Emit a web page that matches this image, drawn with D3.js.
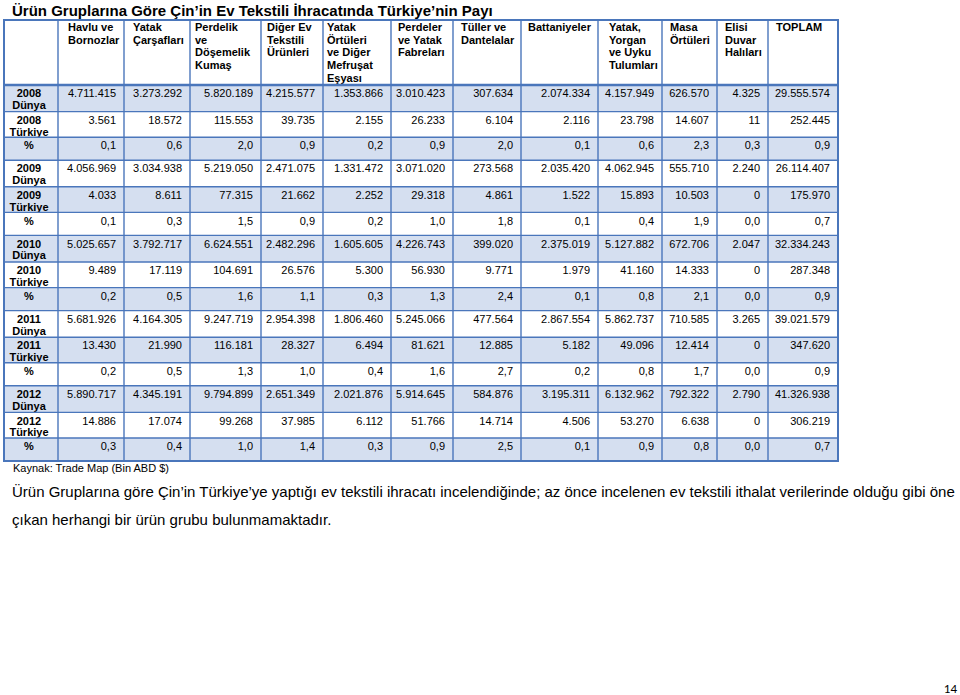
<!DOCTYPE html>
<html>
<head>
<meta charset="utf-8">
<script src="https://cdn.jsdelivr.net/npm/d3@7"></script>
<style>
  body { margin: 0; background: #fff; }
  svg text { font-family: "Liberation Sans", Arial, sans-serif; }
</style>
</head>
<body>
<div id="table-chart"></div>
<script>
const years = [2008, 2009, 2010, 2011, 2012];

const headers = [
  ["Havlu ve", "Bornozlar"],
  ["Yatak", "Çarşafları"],
  ["Perdelik", "ve", "Döşemelik", "Kumaş"],
  ["Diğer Ev", "Tekstili", "Ürünleri"],
  ["Yatak", "Örtüleri", "ve Diğer", "Mefruşat", "Eşyası"],
  ["Perdeler", "ve Yatak", "Fabreları"],
  ["Tüller ve", "Dantelalar"],
  ["Battaniyeler"],
  ["Yatak,", "Yorgan", "ve Uyku", "Tulumları"],
  ["Masa", "Örtüleri"],
  ["Elisi", "Duvar", "Halıları"],
  ["TOPLAM"]
];

const dunya = [
  [4711415, 3273292, 5820189, 4215577, 1353866, 3010423, 307634, 2074334, 4157949, 626570, 4325, 29555574],
  [4056969, 3034938, 5219050, 2471075, 1331472, 3071020, 273568, 2035420, 4062945, 555710, 2240, 26114407],
  [5025657, 3792717, 6624551, 2482296, 1605605, 4226743, 399020, 2375019, 5127882, 672706, 2047, 32334243],
  [5681926, 4164305, 9247719, 2954398, 1806460, 5245066, 477564, 2867554, 5862737, 710585, 3265, 39021579],
  [5890717, 4345191, 9794899, 2651349, 2021876, 5914645, 584876, 3195311, 6132962, 792322, 2790, 41326938]
];

const turkiye = [
  [3561, 18572, 115553, 39735, 2155, 26233, 6104, 2116, 23798, 14607, 11, 252445],
  [4033, 8611, 77315, 21662, 2252, 29318, 4861, 1522, 15893, 10503, 0, 175970],
  [9489, 17119, 104691, 26576, 5300, 56930, 9771, 1979, 41160, 14333, 0, 287348],
  [13430, 21990, 116181, 28327, 6494, 81621, 12885, 5182, 49096, 12414, 0, 347620],
  [14886, 17074, 99268, 37985, 6112, 51766, 14714, 4506, 53270, 6638, 0, 306219]
];

const percent = [
  [0.1, 0.6, 2.0, 0.9, 0.2, 0.9, 2.0, 0.1, 0.6, 2.3, 0.3, 0.9],
  [0.1, 0.3, 1.5, 0.9, 0.2, 1.0, 1.8, 0.1, 0.4, 1.9, 0.0, 0.7],
  [0.2, 0.5, 1.6, 1.1, 0.3, 1.3, 2.4, 0.1, 0.8, 2.1, 0.0, 0.9],
  [0.2, 0.5, 1.3, 1.0, 0.4, 1.6, 2.7, 0.2, 0.8, 1.7, 0.0, 0.9],
  [0.3, 0.4, 1.0, 1.4, 0.3, 0.9, 2.5, 0.1, 0.9, 0.8, 0.0, 0.7]
];

const title = "Ürün Gruplarına Göre Çin’in Ev Tekstili İhracatında Türkiye’nin Payı";
const source = "Kaynak: Trade Map (Bin ABD $)";
const bodyText = [
  "Ürün Gruplarına göre Çin’in Türkiye’ye yaptığı ev tekstili ihracatı incelendiğinde; az önce incelenen ev tekstili ithalat verilerinde olduğu gibi öne",
  "çıkan herhangi bir ürün grubu bulunmamaktadır."
];
const pageNo = "14";

// layout
const width = 960, height = 695;
const colWidths = [54, 66, 66, 71, 62, 68, 62, 68, 77, 64, 55, 51, 70];
const headPad = [10, 9, 5, 6, 4, 7, 8, 7, 11, 8, 8, 8];
const tableX = 4, tableY = 20, headH = 65;
const rowH = { dunya: 26.6, turkiye: 25.6, pct: 23 };
const shade = "#d5dff0";
const lineColor = "#4a76bb";

const tr = d3.formatLocale({ decimal: ",", thousands: ".", grouping: [3], currency: ["", ""] });
const fmtInt = tr.format(",d");
const fmtPct = tr.format(".1f");

// build row list
let rows = [];
years.forEach((y, i) => {
  rows.push({ type: "dunya", label: [String(y), "Dünya"], values: dunya[i].map(fmtInt) });
  rows.push({ type: "turkiye", label: [String(y), "Türkiye"], values: turkiye[i].map(fmtInt) });
  rows.push({ type: "pct", label: ["%"], values: percent[i].map(fmtPct) });
});
let yy = tableY + headH;
rows.forEach((r, i) => {
  r.y = yy;
  r.h = rowH[r.type];
  r.shaded = i % 2 === 0;
  yy += r.h;
});
const tableBottom = yy;

// column edges
const edges = [tableX];
colWidths.forEach(w => edges.push(edges[edges.length - 1] + w));
const tableRight = edges[edges.length - 1];
const x = d3.scaleOrdinal().domain(d3.range(colWidths.length)).range(edges.slice(0, -1));
const w = i => colWidths[i];

const svg = d3.select("#table-chart")
  .append("svg")
  .attr("width", width)
  .attr("height", height);

// title
svg.append("text")
  .attr("x", 12)
  .attr("y", 15.5)
  .style("font-size", "15px")
  .style("font-weight", "bold")
  .text(title);

// body rows: backgrounds
const rowG = svg.selectAll("g.row")
  .data(rows)
  .join("g")
  .attr("class", "row")
  .attr("transform", d => `translate(0,${d.y})`);

rowG.append("rect")
  .attr("x", tableX)
  .attr("y", 0)
  .attr("width", tableRight - tableX)
  .attr("height", d => d.h)
  .attr("fill", d => d.shaded ? shade : "#fff");

// row labels
rowG.append("text")
  .attr("text-anchor", "middle")
  .style("font-size", "11px")
  .style("font-weight", "bold")
  .selectAll("tspan")
  .data(d => d.label)
  .join("tspan")
  .attr("x", x(0) + w(0) / 2 - 2)
  .attr("y", (d, i) => 12.3 + i * 11.8)
  .text(d => d);

// values
rowG.selectAll("text.val")
  .data(d => d.values)
  .join("text")
  .attr("class", "val")
  .attr("text-anchor", "end")
  .attr("x", (d, i) => x(i + 1) + w(i + 1) - 8)
  .attr("y", 12.3)
  .style("font-size", "11px")
  .text(d => d);

// header
const headG = svg.selectAll("g.head")
  .data(headers)
  .join("g")
  .attr("class", "head");

headG.append("text")
  .style("font-size", "11px")
  .style("font-weight", "bold")
  .selectAll("tspan")
  .data((d, i) => d.map(t => ({ t, col: i })))
  .join("tspan")
  .attr("x", d => x(d.col + 1) + headPad[d.col])
  .attr("y", (d, i) => tableY + 10.8 + i * 12.8)
  .text(d => d.t);

// grid lines
svg.selectAll("line.hline")
  .data(rows.map(r => r.y + r.h).slice(0, -1))
  .join("line")
  .attr("class", "hline")
  .attr("x1", tableX).attr("x2", tableRight)
  .attr("y1", d => d).attr("y2", d => d)
  .attr("stroke", lineColor)
  .attr("stroke-width", 1.4);

svg.selectAll("line.vline")
  .data(edges.slice(1, -1))
  .join("line")
  .attr("class", "vline")
  .attr("x1", d => d).attr("x2", d => d)
  .attr("y1", tableY).attr("y2", tableBottom)
  .attr("stroke", lineColor)
  .attr("stroke-width", 1.4);

svg.append("line")
  .attr("x1", tableX).attr("x2", tableRight)
  .attr("y1", tableY + headH).attr("y2", tableY + headH)
  .attr("stroke", lineColor)
  .attr("stroke-width", 2.6);

svg.append("rect")
  .attr("x", tableX).attr("y", tableY)
  .attr("width", tableRight - tableX)
  .attr("height", tableBottom - tableY)
  .attr("fill", "none")
  .attr("stroke", lineColor)
  .attr("stroke-width", 2);

// source + text below
svg.append("text")
  .attr("x", 13)
  .attr("y", tableBottom + 11)
  .style("font-size", "11px")
  .text(source);

svg.selectAll("text.body")
  .data(bodyText)
  .join("text")
  .attr("class", "body")
  .attr("x", 12)
  .attr("y", (d, i) => 497 + i * 27.5)
  .style("font-size", "15px")
  .text(d => d);

svg.append("text")
  .attr("x", 957)
  .attr("y", 693)
  .attr("text-anchor", "end")
  .style("font-family", "Carlito, 'Open Sans', sans-serif")
  .style("font-size", "13px")
  .text(pageNo);
</script>
</body>
</html>
